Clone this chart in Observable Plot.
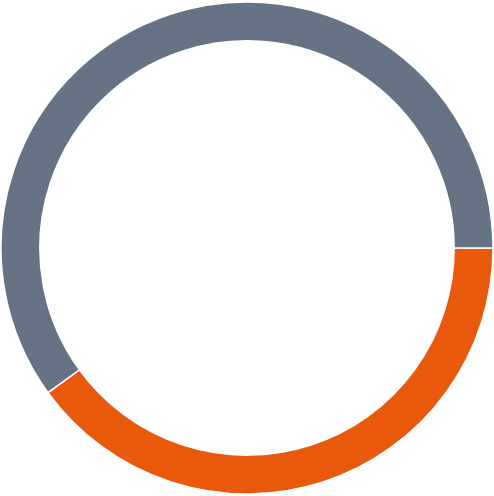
<!DOCTYPE html>
<html><head><meta charset="utf-8">
<script src="https://cdn.jsdelivr.net/npm/d3@7"></script>
<script src="https://cdn.jsdelivr.net/npm/@observablehq/plot@0.6"></script>
<style>html,body{margin:0;padding:0;background:#fff}</style>
</head><body><div id="chart"></div>
<script>
const categories = ["A", "B"];
const values = [40, 60];
const colors = ["#e8590c", "#667385"];

const data = categories.map((c, i) => ({category: c, value: values[i]}));
const pie = d3.pie().value(d => d.value).sort(null).startAngle(Math.PI / 2).endAngle(Math.PI * 2.5);
const arcs = pie(data);

const ring = (index, scales, vals, dims) => {
  const cx = scales.x(0), cy = scales.y(0);
  const r = Math.abs(scales.x(1) - scales.x(0));
  const arc = d3.arc().outerRadius(r).innerRadius(r * 0.842);
  const g = d3.create("svg:g").attr("transform", `translate(${cx},${cy})`);
  g.selectAll("path").data(arcs).join("path")
    .attr("d", arc)
    .attr("fill", d => scales.color(d.data.category))
    .attr("stroke", "#fff")
    .attr("stroke-width", 1.5);
  return g.node();
};

const chart = Plot.plot({
  width: 494, height: 496,
  margin: 0, marginLeft: 1, marginRight: 1, marginTop: 2, marginBottom: 2,
  x: {domain: [-1, 1], axis: null},
  y: {domain: [-1, 1], axis: null},
  color: {domain: categories, range: colors},
  marks: [ring]
});
document.getElementById("chart").appendChild(chart);
</script>
</body></html>
